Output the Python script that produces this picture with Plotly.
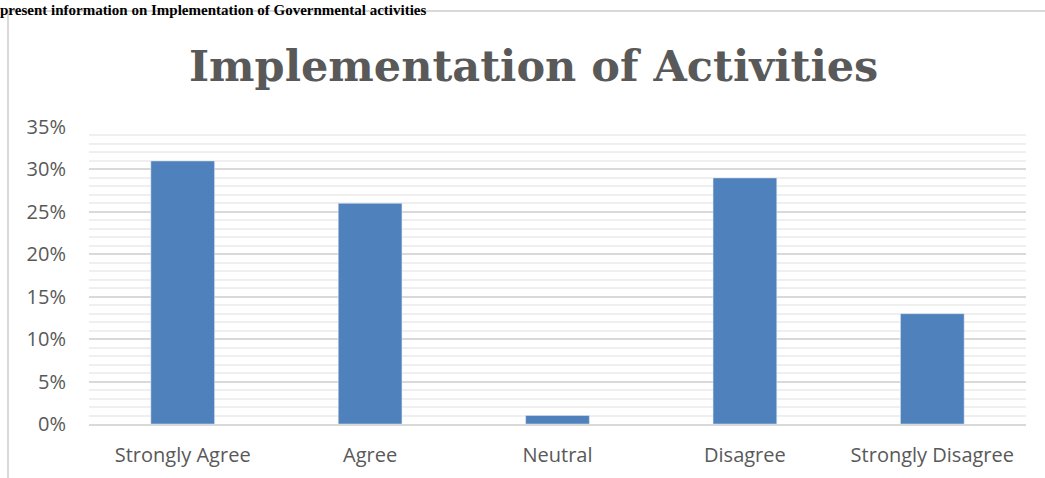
import plotly.graph_objects as go

categories = ["Strongly Agree", "Agree", "Neutral", "Disagree", "Strongly Disagree"]
values = [0.31, 0.26, 0.01, 0.29, 0.13]
y_ticks = [0, 0.05, 0.10, 0.15, 0.20, 0.25, 0.30, 0.35]
y_tick_labels = ["0%", "5%", "10%", "15%", "20%", "25%", "30%", "35%"]

W, H = 1045, 478
L, R, T, B = 89, 19, 127, 54
pw, ph = W - L - R, H - T - B

def px_x(x):
    return (x - L) / pw

def px_y(y):
    return 1 + (T - y) / ph

fig = go.Figure(go.Bar(x=categories, y=values, marker_color="#4F81BD", width=0.34))

fig.update_layout(
    width=W, height=H,
    margin=dict(l=L, r=R, t=T, b=B, autoexpand=False),
    paper_bgcolor="white", plot_bgcolor="white",
    showlegend=False,
    font=dict(family="Open Sans, sans-serif", color="#595959", size=20),
)
fig.update_yaxes(
    range=[0, 0.35], tickvals=y_ticks, ticktext=y_tick_labels, automargin=False,
    showgrid=True, gridcolor="#d9d9d9", gridwidth=1.5,
    minor=dict(dtick=0.01, showgrid=True, gridcolor="#efefef", gridwidth=1.5),
    zeroline=False, showline=False, ticks="", ticklabelstandoff=22,
    tickfont=dict(size=20, color="#595959"),
)
fig.update_xaxes(
    automargin=False,
    showgrid=False, zeroline=False, showline=True, linecolor="#d9d9d9", linewidth=1.5,
    ticks="", tickfont=dict(size=20, color="#595959"), ticklabelstandoff=12,
)

# chart frame
fig.add_shape(type="rect", xref="paper", yref="paper",
              x0=px_x(8), x1=px_x(1060), y0=px_y(11), y1=px_y(495),
              line=dict(color="#d9d9d9", width=2), fillcolor="rgba(0,0,0,0)", layer="below")

# title
fig.add_annotation(text="<b>Implementation of Activities</b>", xref="paper", yref="paper",
                   x=px_x(533), y=px_y(66), xanchor="center", yanchor="middle", showarrow=False,
                   font=dict(family="DejaVu Serif, serif", size=43, color="#595959"))

# document text above the chart
fig.add_annotation(text="<b>present information on Implementation of Governmental activities</b>",
                   xref="paper", yref="paper", x=px_x(0), y=px_y(0),
                   xanchor="left", yanchor="top", showarrow=False, xshift=-2,
                   font=dict(family="Liberation Serif, serif", size=15, color="black"))

fig.write_html("out.html", config={"displayModeBar": False},
               post_script="document.body.style.margin='0';document.body.style.padding='0';")
